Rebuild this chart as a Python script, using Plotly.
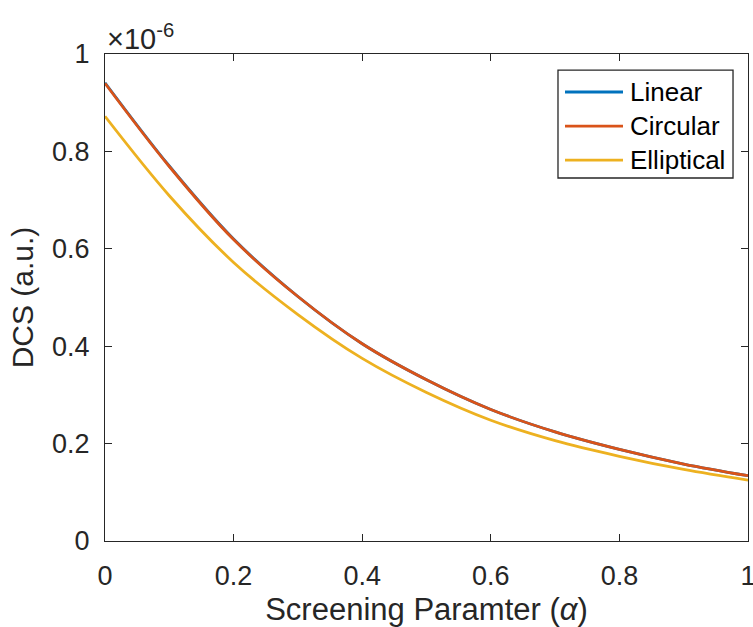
import plotly.graph_objects as go

# Screening parameter alpha
alpha = [0.0, 0.1, 0.2, 0.3, 0.4, 0.5, 0.6, 0.7, 0.8, 0.9, 1.0]

# DCS values in units of 1e-6 (a.u.)
dcs_linear = [0.941, 0.770, 0.620, 0.502, 0.405, 0.331, 0.270, 0.224, 0.188, 0.158, 0.134]
dcs_circular = [0.940, 0.769, 0.619, 0.502, 0.405, 0.331, 0.270, 0.224, 0.188, 0.158, 0.134]
dcs_elliptical = [0.872, 0.709, 0.572, 0.465, 0.375, 0.305, 0.248, 0.206, 0.174, 0.147, 0.125]

names = ["Linear", "Circular", "Elliptical"]
colors = ["#0072BD", "#D95319", "#EDB120"]

x_ticks = [0, 0.2, 0.4, 0.6, 0.8, 1]
x_ticktext = ["0", "0.2", "0.4", "0.6", "0.8", "1"]
y_ticks = [0, 0.2, 0.4, 0.6, 0.8, 1]
y_ticktext = ["0", "0.2", "0.4", "0.6", "0.8", "1"]

FONT = "Liberation Sans, Arial, Helvetica, sans-serif"
AX = "#262626"

fig = go.Figure()
for name, ys, c in zip(names, [dcs_linear, dcs_circular, dcs_elliptical], colors):
    fig.add_trace(go.Scatter(
        x=alpha, y=ys, name=name, mode="lines", showlegend=False,
        line=dict(color=c, width=2.8, shape="spline", smoothing=1.0),
    ))

axis_common = dict(
    showgrid=False, zeroline=False, automargin=False,
    showline=True, linecolor=AX, linewidth=1.3, mirror="ticks",
    ticks="inside", ticklen=7, tickwidth=1.3, tickcolor=AX,
    tickfont=dict(family=FONT, size=27, color=AX),
    ticklabeloverflow="allow",
)

fig.update_layout(
    width=753, height=627,
    margin=dict(l=105, r=5, t=54, b=86),
    paper_bgcolor="white", plot_bgcolor="white",
    font=dict(family=FONT, color=AX),
    xaxis=dict(
        range=[0, 1], tickvals=x_ticks, ticktext=x_ticktext,
        ticklabelstandoff=10,
        title=dict(text="Screening Paramter (<i>α</i>)",
                   font=dict(family=FONT, size=31, color=AX), standoff=10),
        **axis_common,
    ),
    yaxis=dict(
        range=[0, 1], tickvals=y_ticks, ticktext=y_ticktext,
        ticklabelstandoff=9,
        title=dict(text="DCS (a.u.)",
                   font=dict(family=FONT, size=30, color=AX), standoff=9),
        **axis_common,
    ),
    showlegend=False,
)

# Legend box drawn in the upper-right corner of the axes
leg_x0, leg_x1 = 0.7045, 0.9767
leg_y0, leg_y1 = 0.7454, 0.967
row_y = [0.922, 0.852, 0.782]
line_x0, line_x1, text_x = 0.7154, 0.8056, 0.813

fig.add_shape(type="rect", xref="paper", yref="paper",
              x0=leg_x0, x1=leg_x1, y0=leg_y0, y1=leg_y1,
              line=dict(color=AX, width=1.3), fillcolor="white", layer="above")
for name, c, ry in zip(names, colors, row_y):
    fig.add_shape(type="line", xref="paper", yref="paper",
                  x0=line_x0, x1=line_x1, y0=ry, y1=ry,
                  line=dict(color=c, width=2.8), layer="above")
    fig.add_annotation(xref="paper", yref="paper", x=text_x, y=ry,
                       xanchor="left", yanchor="middle", showarrow=False,
                       text=name, font=dict(family=FONT, size=26, color="black"))

# Exponent multiplier for the y axis
fig.add_annotation(
    xref="paper", yref="paper", x=0.0, y=1.0,
    xanchor="left", yanchor="bottom", showarrow=False, yshift=-3,
    text="×10<sup>-6</sup>",
    font=dict(family=FONT, size=29, color=AX),
)

fig.write_html("out.html")
